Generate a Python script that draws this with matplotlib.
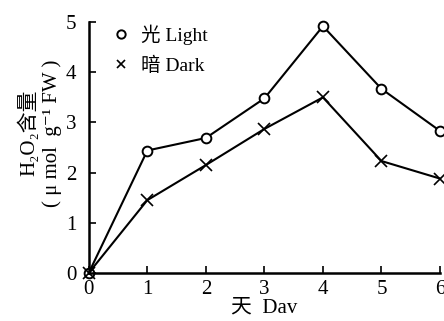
import matplotlib
matplotlib.use("Agg")
import matplotlib.pyplot as plt

plt.rcParams['font.family'] = ['Liberation Serif', 'Noto Sans CJK SC', 'DejaVu Serif']

# data
days = [0, 1, 2, 3, 4, 5, 6]
light = [0, 2.44, 2.69, 3.48, 4.92, 3.67, 2.83]
dark = [0, 1.45, 2.15, 2.87, 3.50, 2.23, 1.88]
xticks = [0, 1, 2, 3, 4, 5, 6]
yticks = [0, 1, 2, 3, 4, 5]

fig = plt.figure(figsize=(4.44, 3.21), dpi=100)
ax = fig.add_axes([0.200, 0.150, 0.791, 0.781])

ax.plot(days, light, color='black', lw=1.5, marker='o', ms=7,
        mfc='white', mec='black', mew=1.4, label='光 Light', clip_on=False)
ax.plot(days, dark, color='black', lw=1.5, marker='x', ms=8,
        mew=1.2, label='暗 Dark', clip_on=False)

ax.set_xlim(0, 6)
ax.set_ylim(0, 5)
ax.set_xticks(xticks)
ax.set_yticks(yticks)
ax.tick_params(direction='in', length=5, width=1.2, labelsize=15)
ax.tick_params(axis='x', pad=5)
ax.tick_params(axis='y', pad=9)
for s in ['top', 'right']:
    ax.spines[s].set_visible(False)
for s in ['left', 'bottom']:
    ax.spines[s].set_linewidth(1.8)

ax.set_xlabel('天  Dav', fontsize=15, labelpad=0)

fig.text(0.065, 0.585, 'H₂O₂含量', rotation=90, ha='center', va='center', fontsize=15)
fig.text(0.118, 0.585, '( μ mol  g⁻¹ FW )', rotation=90, ha='center', va='center', fontsize=15)

leg = ax.legend(loc='upper left', bbox_to_anchor=(0.015, 1.06), frameon=False,
                fontsize=14, handlelength=1.0, handletextpad=0.5,
                labelspacing=0.6)
for h in leg.legend_handles:
    h.set_linestyle('none')
    h.set_markersize(6)

fig.savefig('out.png', dpi=100)
